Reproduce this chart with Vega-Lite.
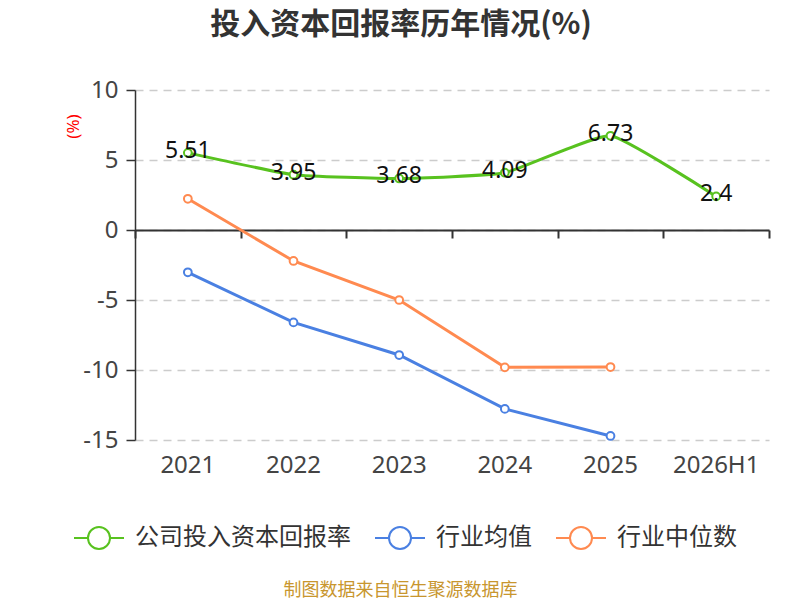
{
  "$schema": "https://vega.github.io/schema/vega-lite/v6.json",
  "width": 634,
  "height": 350,
  "autosize": "none",
  "padding": {"left": 135, "top": 90, "right": 31, "bottom": 160},
  "background": "white",
  "config": {
    "font": "Noto Sans, Noto Sans CJK SC, sans-serif",
    "view": {"stroke": null}
  },
  "title": {
    "text": "投入资本回报率历年情况(%)",
    "font": "Noto Sans CJK SC",
    "fontSize": 30,
    "fontWeight": "bold",
    "color": "#333333",
    "anchor": "middle",
    "dx": -51,
    "offset": 38
  },
  "data": {
    "values": [
      {"year": "2021", "series": "公司投入资本回报率", "value": 5.51},
      {"year": "2022", "series": "公司投入资本回报率", "value": 3.95},
      {"year": "2023", "series": "公司投入资本回报率", "value": 3.68},
      {"year": "2024", "series": "公司投入资本回报率", "value": 4.09},
      {"year": "2025", "series": "公司投入资本回报率", "value": 6.73},
      {"year": "2026H1", "series": "公司投入资本回报率", "value": 2.4},
      {"year": "2021", "series": "行业均值", "value": -3.02},
      {"year": "2022", "series": "行业均值", "value": -6.6},
      {"year": "2023", "series": "行业均值", "value": -8.93},
      {"year": "2024", "series": "行业均值", "value": -12.78},
      {"year": "2025", "series": "行业均值", "value": -14.71},
      {"year": "2021", "series": "行业中位数", "value": 2.23},
      {"year": "2022", "series": "行业中位数", "value": -2.21},
      {"year": "2023", "series": "行业中位数", "value": -5.0},
      {"year": "2024", "series": "行业中位数", "value": -9.81},
      {"year": "2025", "series": "行业中位数", "value": -9.79}
    ]
  },
  "encoding": {
    "x": {
      "field": "year",
      "type": "ordinal",
      "sort": ["2021", "2022", "2023", "2024", "2025", "2026H1"],
      "scale": {"type": "band", "domain": ["2021", "2022", "2023", "2024", "2025", "2026H1"], "paddingInner": 0, "paddingOuter": 0}
    },
    "y": {
      "field": "value",
      "type": "quantitative",
      "scale": {"domain": [-15, 10], "nice": false}
    },
    "color": {
      "field": "series",
      "type": "nominal",
      "sort": ["公司投入资本回报率", "行业均值", "行业中位数"],
      "scale": {
        "domain": ["公司投入资本回报率", "行业均值", "行业中位数"],
        "range": ["#58c21f", "#4a80e2", "#ff8a50"]
      },
      "legend": {
        "orient": "none",
        "legendX": -62,
        "legendY": 422,
        "direction": "horizontal",
        "title": null,
        "padding": 0,
        "symbolType": "M-1,0H-0.44M0.44,0H1M0.44,0A0.44,0.44,0,1,1,-0.44,0A0.44,0.44,0,1,1,0.44,0Z",
        "symbolSize": 2500,
        "symbolFillColor": "white",
        "symbolStrokeWidth": 2,
        "symbolOpacity": 1,
        "labelFont": "Noto Sans CJK SC",
        "labelFontSize": 24,
        "labelColor": "#333333",
        "labelOffset": 10,
        "labelLimit": 0,
        "columnPadding": 20
      }
    }
  },
  "resolve": {"axis": {"x": "independent"}},
  "layer": [
    {
      "transform": [{"filter": "datum.series === '公司投入资本回报率'"}],
      "mark": {"type": "line", "interpolate": "cardinal", "tension": 0.6, "strokeWidth": 3},
      "encoding": {
        "x": {
          "field": "year",
          "type": "ordinal",
          "sort": ["2021", "2022", "2023", "2024", "2025", "2026H1"],
          "axis": {
            "orient": "bottom",
            "domain": false,
            "ticks": false,
            "tickSize": 0,
            "grid": false,
            "labelAngle": 0,
            "labelFontSize": 24,
            "labelColor": "#444444",
            "labelPadding": 13,
            "title": "制图数据来自恒生聚源数据库",
            "titleFont": "Noto Sans CJK SC",
            "titleFontSize": 18,
            "titleFontWeight": "normal",
            "titleColor": "#c8962e",
            "titleX": 265,
            "titleY": 150,
            "titleAlign": "center",
            "titleBaseline": "middle"
          }
        },
        "y": {
          "field": "value",
          "type": "quantitative",
          "axis": {
            "values": [-15, -10, -5, 0, 5, 10],
            "labelExpr": "'' + datum.value",
            "grid": true,
            "gridColor": "#cccccc",
            "gridDash": [8, 6],
            "gridWidth": 1.3,
            "domain": true,
            "domainColor": "#333333",
            "domainWidth": 1.5,
            "ticks": true,
            "tickColor": "#333333",
            "tickSize": 9,
            "tickWidth": 1.5,
            "labelFontSize": 24,
            "labelColor": "#444444",
            "labelPadding": 8,
            "title": "(%)",
            "titleColor": "#ff0000",
            "titleFontSize": 17,
            "titleFontWeight": "normal",
            "titleX": -62,
            "titleY": 36,
            "titleAngle": -90,
            "titleAlign": "center",
            "titleBaseline": "middle"
          }
        }
      }
    },
    {
      "transform": [{"filter": "datum.series !== '公司投入资本回报率'"}],
      "mark": {"type": "line", "strokeWidth": 3},
      "encoding": {
        "x": {
          "field": "year",
          "type": "ordinal",
          "sort": ["2021", "2022", "2023", "2024", "2025", "2026H1"],
          "axis": {
            "orient": "bottom",
            "offset": -210,
            "labels": false,
            "domain": true,
            "domainColor": "#333333",
            "domainWidth": 2,
            "ticks": true,
            "tickBand": "extent",
            "tickColor": "#333333",
            "tickSize": 8,
            "tickWidth": 2,
            "grid": false,
            "title": null
          }
        }
      }
    },
    {
      "mark": {"type": "point", "filled": false, "fill": "white", "fillOpacity": 1, "strokeWidth": 2, "size": 60, "opacity": 1},
      "encoding": {
        "x": {"field": "year", "type": "ordinal", "sort": ["2021", "2022", "2023", "2024", "2025", "2026H1"], "axis": null}
      }
    },
    {
      "transform": [{"filter": "datum.series === '公司投入资本回报率'"}],
      "mark": {"type": "text", "fontSize": 23, "color": "#111111", "baseline": "middle", "dy": -2},
      "encoding": {
        "x": {"field": "year", "type": "ordinal", "sort": ["2021", "2022", "2023", "2024", "2025", "2026H1"], "axis": null},
        "text": {"field": "value", "type": "quantitative"},
        "color": {"value": "#111111"}
      }
    }
  ]
}
